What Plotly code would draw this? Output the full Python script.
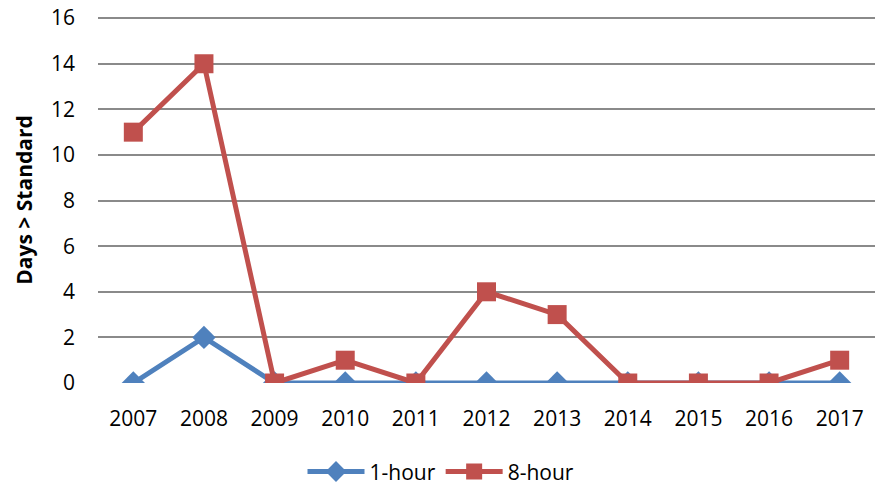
import plotly.graph_objects as go

years = ["2007", "2008", "2009", "2010", "2011", "2012", "2013", "2014", "2015", "2016", "2017"]
one_hour = [0, 2, 0, 0, 0, 0, 0, 0, 0, 0, 0]
eight_hour = [11, 14, 0, 1, 0, 4, 3, 0, 0, 0, 1]
y_ticks = [0, 2, 4, 6, 8, 10, 12, 14, 16]

FONT = "Open Sans"
FS = 21

fig = go.Figure()
fig.add_trace(go.Scatter(
    x=years, y=one_hour, name="1-hour", mode="lines+markers",
    line=dict(color="#4F81BD", width=5),
    marker=dict(symbol="diamond", size=18, color="#4F81BD"),
))
fig.add_trace(go.Scatter(
    x=years, y=eight_hour, name="8-hour", mode="lines+markers",
    line=dict(color="#C0504D", width=5),
    marker=dict(symbol="square", size=19, color="#C0504D"),
))

fig.update_layout(
    width=875, height=491,
    margin=dict(l=98, r=0, t=17, b=108, autoexpand=False),
    plot_bgcolor="white", paper_bgcolor="white",
    font=dict(family=FONT, size=FS, color="black"),
    showlegend=True,
    legend=dict(orientation="h", xref="container", yref="container",
                x=0.504, xanchor="center", y=0.039, yanchor="middle",
                font=dict(family=FONT, size=FS), itemwidth=57,
                traceorder="normal"),
    xaxis=dict(type="category", range=[-0.5, 10.5], showgrid=False,
               showline=False, zeroline=False, ticks="",
               ticklabelstandoff=21, tickfont=dict(family=FONT, size=FS)),
    yaxis=dict(range=[0, 16.05], tickvals=y_ticks, showgrid=True,
               gridcolor="#8A8A8A", gridwidth=2, zeroline=False,
               showline=False, ticks="", ticklabelstandoff=22,
               tickfont=dict(family=FONT, size=FS),
               title=dict(text="<b>Days > Standard</b>", standoff=12,
                          font=dict(family=FONT, size=FS))),
)

fig.write_html("out.html", config={"displayModeBar": False},
               post_script="document.body.style.margin='0';")
